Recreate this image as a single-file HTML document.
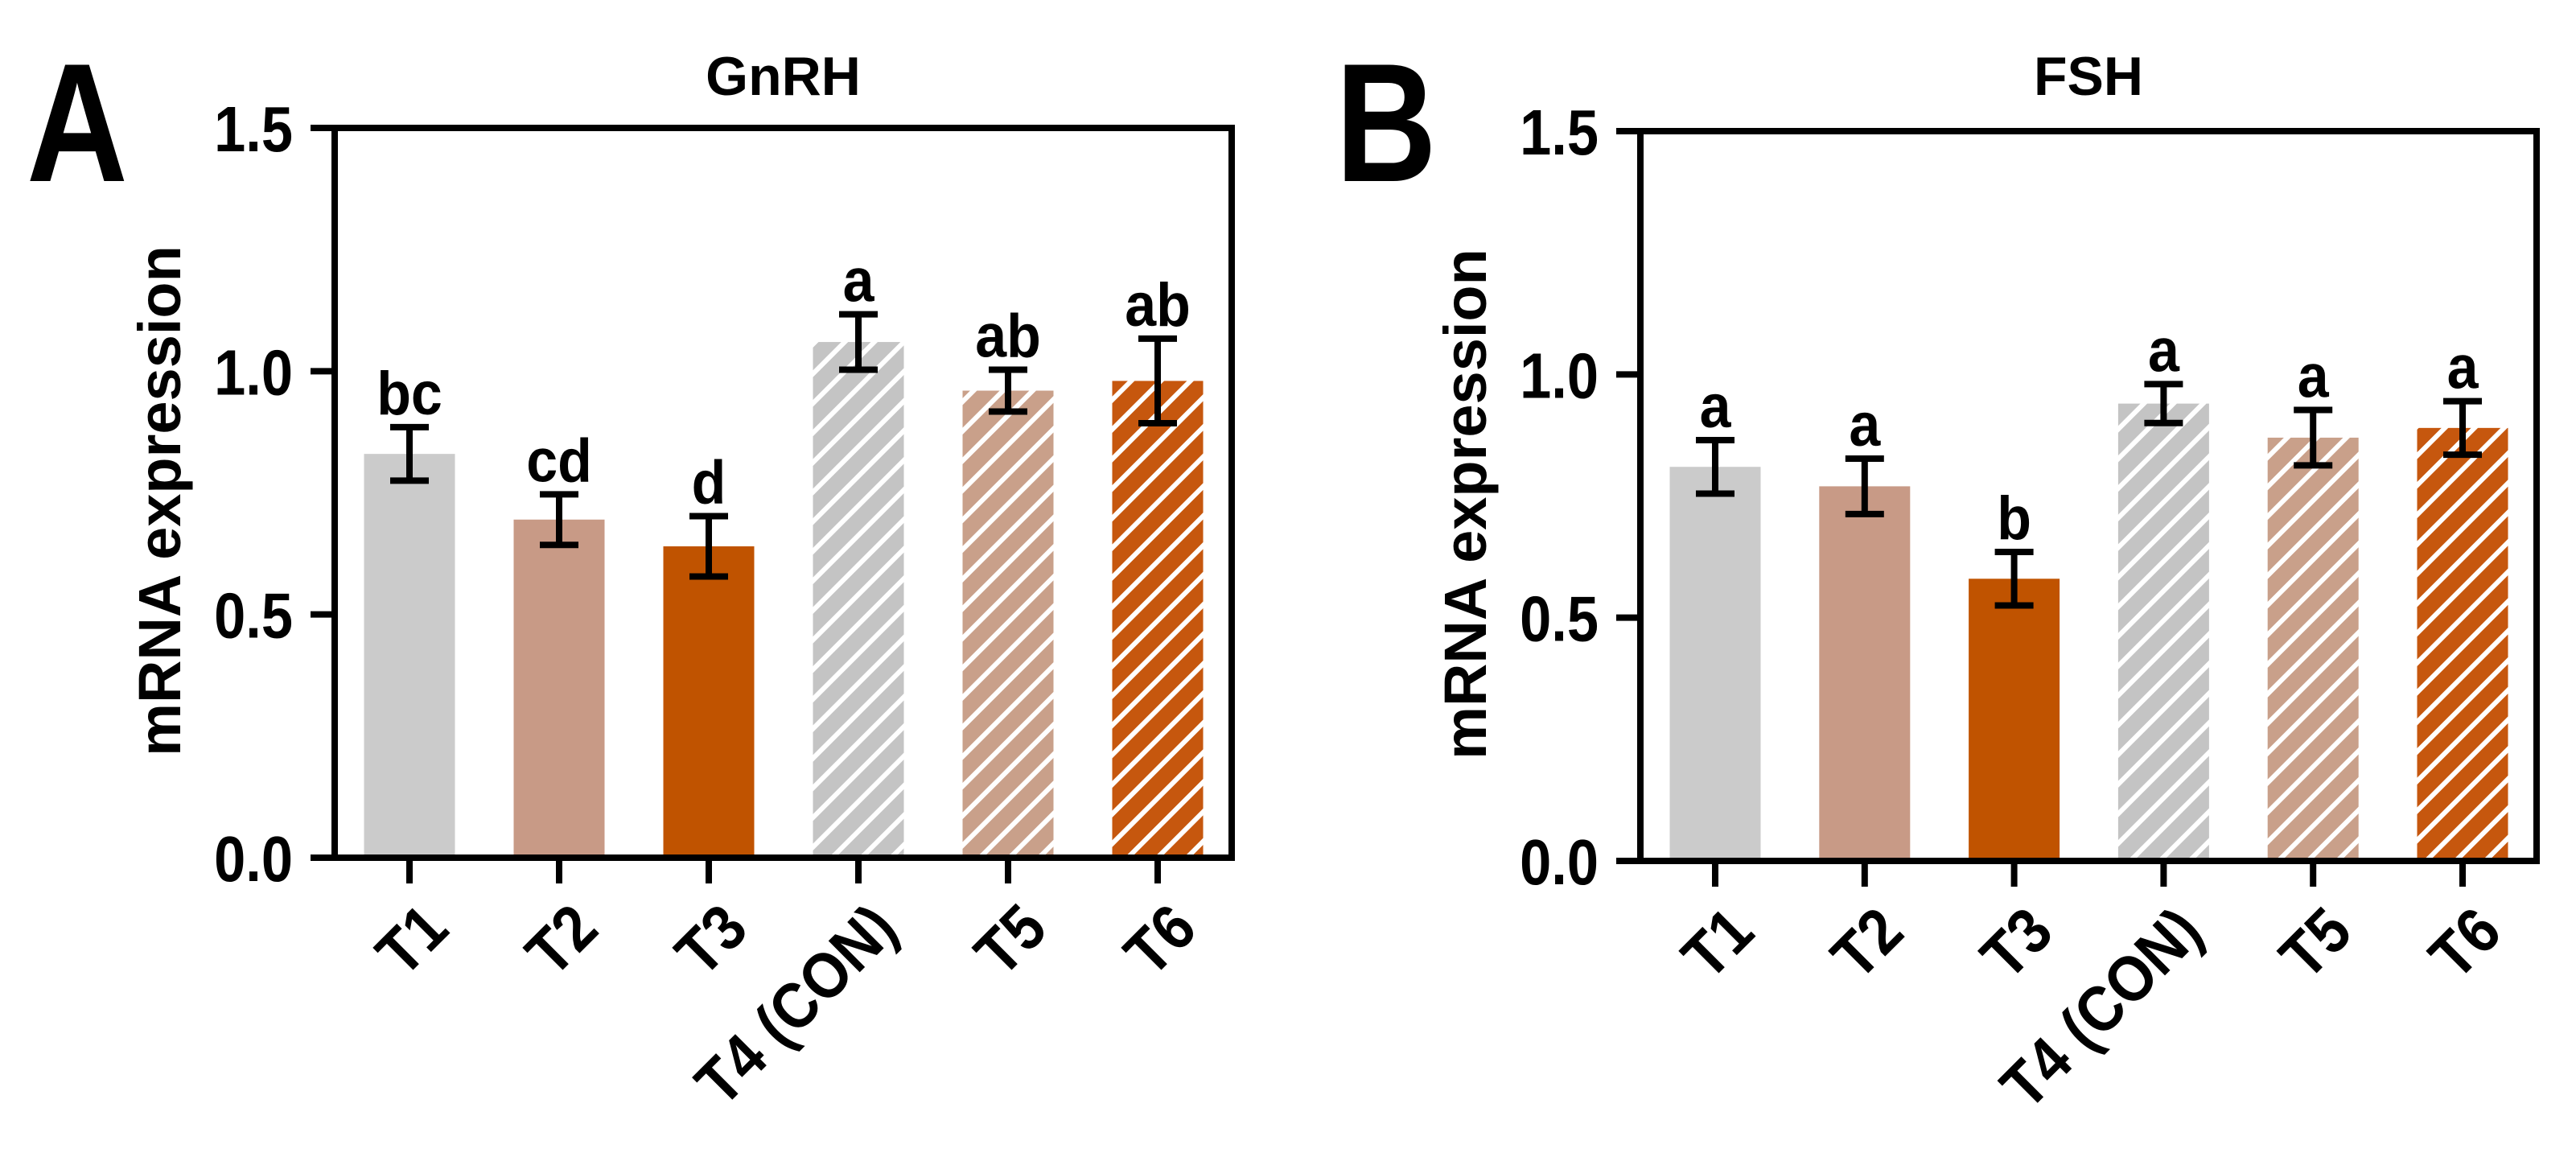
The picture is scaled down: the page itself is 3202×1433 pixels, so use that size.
<!DOCTYPE html>
<html><head><meta charset="utf-8"><style>
html,body{margin:0;padding:0;background:#fff;}
svg{display:block;font-family:"Liberation Sans",Arial,sans-serif;font-weight:bold;}
</style></head>
<body>
<svg id="fig" width="3202" height="1433" viewBox="0 0 3202 1433" xmlns="http://www.w3.org/2000/svg">
<defs>
<pattern id="h-gray" patternUnits="userSpaceOnUse" width="26" height="26" patternTransform="rotate(45)"><rect width="26" height="26" fill="#c4c4c4"/><rect x="0" y="0" width="6" height="26" fill="#fff"/></pattern>
<pattern id="h-tan" patternUnits="userSpaceOnUse" width="26" height="26" patternTransform="rotate(45)"><rect width="26" height="26" fill="#c9a08a"/><rect x="0" y="0" width="6" height="26" fill="#fff"/></pattern>
<pattern id="h-orange" patternUnits="userSpaceOnUse" width="26" height="26" patternTransform="rotate(45)"><rect width="26" height="26" fill="#c6570e"/><rect x="0" y="0" width="6" height="26" fill="#fff"/></pattern>
</defs>
</svg>
<script>
const categories = ["T1","T2","T3","T4 (CON)","T5","T6"];
const gnrhMeans = [0.83,0.695,0.64,1.06,0.96,0.98];
const gnrhErr = [0.055,0.052,0.062,0.057,0.043,0.087];
const gnrhLetters = ["bc","cd","d","a","ab","ab"];
const fshMeans = [0.81,0.77,0.58,0.94,0.87,0.89];
const fshErr = [0.055,0.057,0.055,0.04,0.057,0.055];
const fshLetters = ["a","a","b","a","a","a"];
const yTicks = [0,0.5,1.0,1.5];
const yTickLabels = ["0.0","0.5","1.0","1.5"];
const fills = ["#cbcbcb","#c89a86","#c05300","url(#h-gray)","url(#h-tan)","url(#h-orange)"];

const svg = document.getElementById('fig');
const NS = "http://www.w3.org/2000/svg";
function mk(tag, attrs, parent){const e=document.createElementNS(NS,tag);for(const k in attrs)e.setAttribute(k,attrs[k]);(parent||svg).appendChild(e);return e;}

function panel(cfg){
  const g = mk('g',{});
  
  
  const y = v => cfg.y0 - (v/1.5)*(cfg.y0-cfg.y1);
  const x = i => cfg.xFirst + i*cfg.step;
  const bw = 113;
  cfg.means.forEach((m,i)=>{
    const r = mk('rect',{x:x(i)-bw/2,y:y(m),width:bw,height:y(0)-y(m),fill:fills[i]},g);
    
    
    const lo=y(m-cfg.err[i]), hi=y(m+cfg.err[i]);
    const eb = mk('path',{d:`M${x(i)} ${lo}V${hi}M${x(i)-24} ${hi}H${x(i)+24}M${x(i)-24} ${lo}H${x(i)+24}`,stroke:'#000','stroke-width':8,fill:'none'},g);
    
    
    const t = mk('text',{x:0,y:0,'text-anchor':'middle','font-size':76,fill:'#000',transform:`translate(${x(i)},${hi-16}) scale(0.92,1)`},g);
    t.textContent = cfg.letters[i];
    
    
    const tk = mk('line',{x1:x(i),x2:x(i),y1:y(0),y2:y(0)+32,stroke:'#000','stroke-width':8},g);
    
    
    const lb = mk('text',{x:0,y:0,'text-anchor':'end','font-size':80,fill:'#000',transform:`translate(${x(i)+52},${y(0)+92}) rotate(-45) scale(0.9,1)`},g);
    lb.textContent = categories[i];
    
    
  });
  const fr = mk('rect',{x:cfg.xL,y:cfg.y1,width:cfg.xR-cfg.xL,height:cfg.y0-cfg.y1,fill:'none',stroke:'#000','stroke-width':8},g);
  
  
  yTicks.forEach((v,k)=>{
    const l = mk('line',{x1:cfg.xL-30,x2:cfg.xL,y1:y(v),y2:y(v),stroke:'#000','stroke-width':8},g);
    
    
    const t = mk('text',{x:0,y:0,'text-anchor':'end','font-size':80,fill:'#000',transform:`translate(${cfg.xL-52},${y(v)+29}) scale(0.88,1)`},g);
    t.textContent = yTickLabels[k];
    
    
  });
  const yt = mk('text',{x:0,y:0,'text-anchor':'middle','font-size':74,fill:'#000',transform:`translate(${cfg.xL-192},${(cfg.y0+cfg.y1)/2+10}) rotate(-90)`},g);
  yt.textContent = 'mRNA expression';
  
  
  const tt = mk('text',{x:(cfg.xL+cfg.xR)/2,y:118,'text-anchor':'middle','font-size':68,fill:'#000'},g);
  tt.textContent = cfg.title;
  
  
  const pl = mk('text',{x:0,y:0,'font-size':210,fill:'#000',transform:`translate(${cfg.letterX},225) scale(0.83,1)`},g);
  pl.textContent = cfg.panel;
  
  
}
panel({name:'panel-a-gnrh',title:'GnRH',panel:'A',letterX:33,xL:416,xR:1531,y0:1066,y1:159,xFirst:509,step:186,means:gnrhMeans,err:gnrhErr,letters:gnrhLetters});
panel({name:'panel-b-fsh',title:'FSH',panel:'B',letterX:1660,xL:2039,xR:3153,y0:1070,y1:163,xFirst:2132,step:185.8,means:fshMeans,err:fshErr,letters:fshLetters});
</script>
</body></html>
